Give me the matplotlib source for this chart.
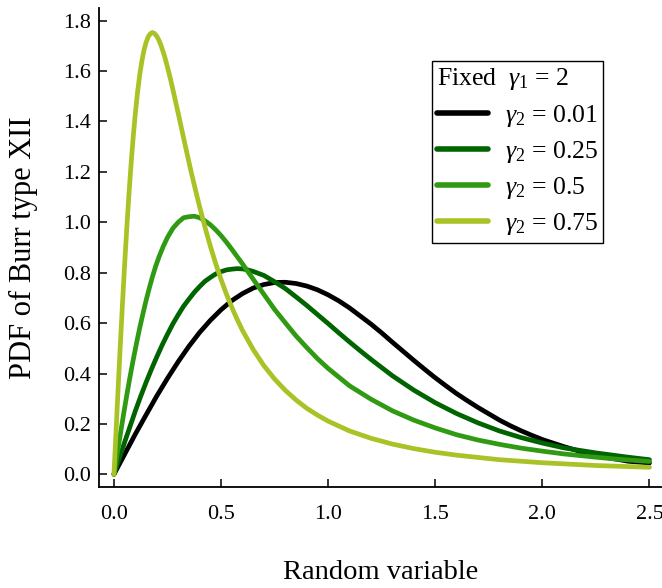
import matplotlib
matplotlib.use("Agg")
import matplotlib.pyplot as plt

plt.rcParams['font.family'] = ['Liberation Serif', 'DejaVu Serif']
plt.rcParams['mathtext.fontset'] = 'custom'
plt.rcParams['mathtext.rm'] = 'Liberation Serif'
plt.rcParams['mathtext.it'] = 'Liberation Serif:italic'

# gamma2 = 0.01
x_black = [0, 0.05, 0.1, 0.15, 0.2, 0.25, 0.3, 0.35, 0.4, 0.45, 0.5, 0.55, 0.6,
           0.65, 0.7, 0.75, 0.8, 0.85, 0.9, 0.95, 1.0, 1.05, 1.1, 1.15, 1.2,
           1.25, 1.3, 1.35, 1.4, 1.45, 1.5, 1.55, 1.6, 1.65, 1.7, 1.75, 1.8,
           1.85, 1.9, 1.95, 2.0, 2.1, 2.2, 2.3, 2.4, 2.5]
y_black = [0, 0.080, 0.160, 0.236, 0.311, 0.381, 0.447, 0.508, 0.563, 0.611,
           0.653, 0.689, 0.717, 0.739, 0.753, 0.761, 0.762, 0.757, 0.747,
           0.732, 0.712, 0.688, 0.660, 0.628, 0.596, 0.561, 0.524, 0.488,
           0.452, 0.417, 0.383, 0.351, 0.320, 0.292, 0.265, 0.240, 0.215,
           0.193, 0.173, 0.155, 0.138, 0.110, 0.085, 0.067, 0.052, 0.045]
# gamma2 = 0.25
x_dgreen = [0, 0.025, 0.05, 0.075, 0.1, 0.125, 0.15, 0.175, 0.2, 0.225, 0.25,
            0.275, 0.3, 0.325, 0.35, 0.375, 0.4, 0.425, 0.45, 0.475, 0.5,
            0.525, 0.55, 0.575, 0.6, 0.625, 0.65, 0.675, 0.7, 0.75, 0.8, 0.85,
            0.9, 0.95, 1.0, 1.05, 1.1, 1.15, 1.2, 1.3, 1.4, 1.5, 1.6, 1.7, 1.8,
            1.9, 2.0, 2.1, 2.25, 2.4, 2.5]
y_dgreen = [0, 0.064, 0.128, 0.190, 0.252, 0.310, 0.365, 0.417, 0.466, 0.513,
            0.556, 0.597, 0.633, 0.667, 0.695, 0.722, 0.745, 0.766, 0.781,
            0.795, 0.804, 0.811, 0.814, 0.816, 0.815, 0.811, 0.805, 0.797,
            0.789, 0.764, 0.737, 0.704, 0.670, 0.634, 0.598, 0.561, 0.525,
            0.490, 0.456, 0.391, 0.334, 0.284, 0.241, 0.204, 0.172, 0.146,
            0.124, 0.105, 0.085, 0.068, 0.058]
# gamma2 = 0.5
x_green = [0, 0.015, 0.03, 0.045, 0.06, 0.075, 0.09, 0.105, 0.12, 0.135, 0.15,
           0.165, 0.18, 0.195, 0.21, 0.23, 0.25, 0.275, 0.30, 0.325, 0.35,
           0.375, 0.40, 0.425, 0.45, 0.475, 0.50, 0.525, 0.55, 0.575, 0.60,
           0.65, 0.70, 0.75, 0.80, 0.85, 0.90, 0.95, 1.0, 1.1, 1.2, 1.3, 1.4,
           1.5, 1.6, 1.7, 1.8, 1.9, 2.0, 2.1, 2.25, 2.35, 2.5]
y_green = [0, 0.080, 0.160, 0.239, 0.315, 0.387, 0.455, 0.519, 0.580, 0.636,
           0.690, 0.739, 0.785, 0.826, 0.862, 0.904, 0.940, 0.976, 1.000,
           1.018, 1.022, 1.024, 1.018, 1.006, 0.990, 0.970, 0.947, 0.921,
           0.893, 0.864, 0.835, 0.774, 0.714, 0.654, 0.601, 0.549, 0.503,
           0.459, 0.420, 0.351, 0.298, 0.252, 0.215, 0.184, 0.157, 0.136,
           0.119, 0.104, 0.092, 0.081, 0.068, 0.060, 0.051]
# gamma2 = 0.75
x_yellow = [0, 0.01, 0.02, 0.03, 0.04, 0.05, 0.06, 0.07, 0.08, 0.09, 0.10,
            0.11, 0.12, 0.13, 0.14, 0.15, 0.16, 0.17, 0.18, 0.19, 0.20, 0.21,
            0.22, 0.235, 0.25, 0.265, 0.28, 0.30, 0.32, 0.34, 0.36, 0.38, 0.40,
            0.425, 0.45, 0.475, 0.50, 0.525, 0.55, 0.575, 0.60, 0.65, 0.70,
            0.75, 0.80, 0.85, 0.90, 0.95, 1.0, 1.1, 1.2, 1.3, 1.4, 1.5, 1.6,
            1.8, 2.0, 2.25, 2.5]
y_yellow = [0, 0.176, 0.350, 0.519, 0.681, 0.835, 0.979, 1.112, 1.232, 1.340,
            1.434, 1.515, 1.583, 1.638, 1.682, 1.714, 1.736, 1.748, 1.753,
            1.748, 1.738, 1.722, 1.701, 1.662, 1.615, 1.564, 1.508, 1.432,
            1.354, 1.277, 1.201, 1.130, 1.061, 0.980, 0.905, 0.836, 0.773,
            0.715, 0.663, 0.615, 0.571, 0.495, 0.431, 0.378, 0.333, 0.295,
            0.262, 0.235, 0.211, 0.172, 0.143, 0.120, 0.102, 0.0875, 0.076,
            0.058, 0.046, 0.035, 0.028]

labels = [r"$\gamma_2$ = 0.01", r"$\gamma_2$ = 0.25", r"$\gamma_2$ = 0.5",
          r"$\gamma_2$ = 0.75"]
colors = ["#000000", "#006400", "#2f9a12", "#a9c225"]
legend_title = r"Fixed  $\gamma_1$ = 2"
xlabel = "Random variable"
ylabel = "PDF of Burr type XII"
xticks = [0.0, 0.5, 1.0, 1.5, 2.0, 2.5]
yticks = [0.0, 0.2, 0.4, 0.6, 0.8, 1.0, 1.2, 1.4, 1.6, 1.8]

fig = plt.figure(figsize=(6.62, 5.88), dpi=100)
ax = fig.add_axes([0.1495, 0.1723, 0.851, 0.8141])

series = [(x_black, y_black), (x_dgreen, y_dgreen), (x_green, y_green),
          (x_yellow, y_yellow)]
for (xs, ys), c, lab in zip(series, colors, labels):
    ax.plot(xs, ys, color=c, lw=3.4, label=lab, solid_capstyle='round',
            solid_joinstyle='round')

ax.set_xlim(-0.07, 2.56)
ax.set_ylim(-0.049, 1.85)
ax.set_xticks(xticks)
ax.set_xticklabels([f"{t:.1f}" for t in xticks])
ax.set_yticks(yticks)
ax.set_yticklabels([f"{t:.1f}" for t in yticks])
for s in ['top', 'right']:
    ax.spines[s].set_visible(False)
for s in ['left', 'bottom']:
    ax.spines[s].set_linewidth(1.3)
ax.tick_params(direction='in', length=5.8, width=1.1, labelsize=16)
ax.tick_params(axis='x', pad=13)
ax.tick_params(axis='y', pad=6)
ax.set_xlabel(xlabel, fontsize=20.5, labelpad=26)
ax.set_ylabel(ylabel, fontsize=22, labelpad=18)

leg = ax.legend(title=legend_title, loc='upper left',
                bbox_to_anchor=(0.591, 0.889), fontsize=18.5,
                title_fontsize=18.5, frameon=True, fancybox=False,
                framealpha=1, edgecolor='black', handlelength=2.0,
                handletextpad=0.65, labelspacing=0.4, borderpad=0.2,
                borderaxespad=0, alignment='left')
leg.get_frame().set_linewidth(1.0)
for line in leg.get_lines():
    line.set_linewidth(4.0)

fig.savefig("out.png", dpi=100)
